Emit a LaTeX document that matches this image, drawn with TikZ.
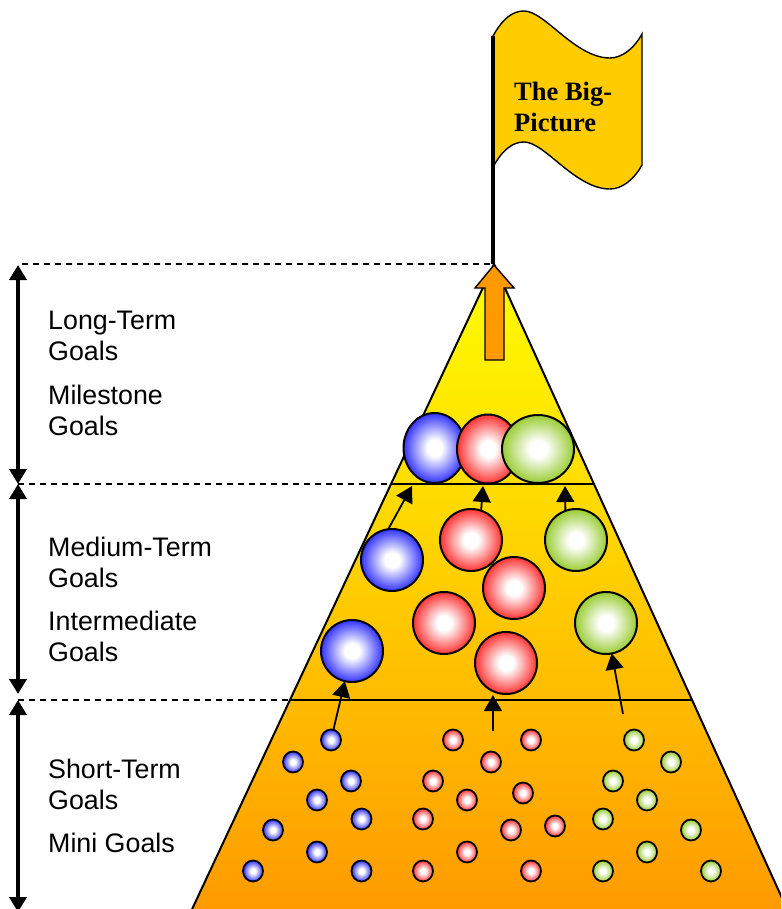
\documentclass[tikz,border=0pt]{standalone}
\usepackage{fontspec}
\setmainfont{Liberation Sans}
\newfontfamily\flagfont{Liberation Serif}
\usetikzlibrary{arrows.meta,shapes.geometric}
\definecolor{flagyellow}{HTML}{FFCC00}
\definecolor{goalorange}{HTML}{FF9900}
\definecolor{goalblue}{HTML}{3333FF}
\definecolor{goalred}{HTML}{FF3333}
\definecolor{goalgreen}{HTML}{99CC33}
\pgfdeclareradialshading{ballblue}{\pgfpointorigin}{color(0bp)=(white); color(6bp)=(white); color(25bp)=(goalblue); color(50bp)=(goalblue)}
\pgfdeclareradialshading{ballred}{\pgfpointorigin}{color(0bp)=(white); color(6bp)=(white); color(25bp)=(goalred); color(50bp)=(goalred)}
\pgfdeclareradialshading{ballgreen}{\pgfpointorigin}{color(0bp)=(white); color(6bp)=(white); color(25bp)=(goalgreen); color(50bp)=(goalgreen)}
\tikzset{
bigball/.style={circle, draw=black, line width=2pt, shade, shading=ball#1, minimum size=62pt, inner sep=0pt, outer sep=0pt},
topball/.style={ellipse, draw=black, line width=2pt, shade, shading=ball#1, inner sep=0pt, outer sep=0pt},
smallball/.style={ellipse, draw=black, line width=1.8pt, shade, shading=ball#1, minimum width=20pt, minimum height=21pt, inner sep=0pt, outer sep=0pt},
goalarrow/.style={-{Triangle[length=16pt,width=18pt]}, line width=1.8pt},
spanarrow/.style={{Triangle[length=15pt,width=17pt]}-{Triangle[length=15pt,width=17pt]}, line width=4pt},
levelline/.style={dash pattern=on 6pt off 5pt, line width=1.5pt},
goaltext/.style={anchor=north west, align=left, inner sep=0pt, font=\fontsize{26.8}{30.5}\selectfont}
}
\begin{document}
\begin{tikzpicture}[x=1pt,y=-1pt]
        \path[use as bounding box, clip] (0,0) rectangle (781,909);

        % pyramid
        \path[top color=yellow, bottom color=goalorange] (494,264) -- (187,920) -- (792,920) -- cycle;
        \draw[line width=2pt] (494,264) -- (187,920) (494,264) -- (792,920);
        \draw[line width=1.8pt] (391,484) -- (594,484);
        \draw[line width=1.8pt] (290,700) -- (693,700);

        % levels
        \coordinate (top) at (494,264);
        \coordinate (midleft) at (391,484);
        \coordinate (lowleft) at (290,700);
        \draw[levelline] (22,264) -- (top);
        \draw[levelline] (18,484) -- (midleft);
        \draw[levelline] (18,700) -- (lowleft);

        % span arrows
        \coordinate (spana) at (18,265);
        \coordinate (spanb) at (18,484);
        \coordinate (spanc) at (18,694);
        \coordinate (spand) at (18,700);
        \coordinate (spane) at (18,912);
        \draw[spanarrow] (spana) -- (spanb);
        \draw[spanarrow] (spanb) -- (spanc);
        \draw[spanarrow] (spand) -- (spane);

        % labels
        \node[goaltext] (longterm) at (48,311) {Long-Term\\Goals};
        \node[goaltext] (milestone) at (48,385) {Milestone\\Goals};
        \node[goaltext] (mediumterm) at (48,537) {Medium-Term\\Goals};
        \node[goaltext] (intermediate) at (48,611) {Intermediate\\Goals};
        \node[goaltext] (shortterm) at (48,759) {Short-Term\\Goals};
        \node[goaltext] (minigoals) at (48,833) {Mini Goals};

        % flag
        \draw[fill=flagyellow, line width=1.4pt] (493,36) .. controls (503,18) and (513,11) .. (524,11)
            .. controls (545,11) and (575,58) .. (610,58)
            .. controls (623,58) and (635,47) .. (642,34) -- (642,165)
            .. controls (635,178) and (623,189) .. (610,189)
            .. controls (575,189) and (545,142) .. (524,142)
            .. controls (513,142) and (503,149) .. (493,167) -- cycle;
        \draw[line width=4pt] (493,36) -- (493,264);
        \node[anchor=north west, align=left, inner sep=0pt, font=\flagfont\bfseries\fontsize{26.5}{31}\selectfont] (bigpicture) at (514,82) {The Big-\\Picture};

        % up arrow
        \draw[fill=goalorange, line width=1.4pt] (494,265) -- (514,288) -- (504,288) -- (504,360) -- (485,360) -- (485,288) -- (475,288) -- cycle;

        % big balls
        \node[topball=blue, minimum width=62pt, minimum height=70pt] (tb) at (434.5,448) {};
        \node[topball=red, minimum width=62pt, minimum height=69pt] (tr) at (488,449) {};
        \node[topball=green, minimum width=72pt, minimum height=68pt] (tg) at (538,449) {};
        \node[bigball=blue] (mb1) at (352,651) {};
        \node[bigball=blue] (mb2) at (392,560) {};
        \node[bigball=red] (mr1) at (471,540) {};
        \node[bigball=red] (mr2) at (514,588) {};
        \node[bigball=red] (mr3) at (444,623) {};
        \node[bigball=red] (mr4) at (506,663) {};
        \node[bigball=green] (mg1) at (576,540) {};
        \node[bigball=green] (mg2) at (606,623) {};

        % small balls
        \foreach \coord [count=\i] in {(331,740), (293,762), (351,781), (317,800), (361.5,819), (273,830), (317,852), (253,871), (361.5,871)}{
            \node[smallball=blue] (sb\i) at \coord {};
        }
        \foreach \coord [count=\i] in {(453,740), (531,740), (491,762), (433,781), (467,800), (523,793), (423,819), (511,830), (555,826), (467,852), (423,871), (531,871)}{
            \node[smallball=red] (sr\i) at \coord {};
        }
        \foreach \coord [count=\i] in {(634,740), (671,762), (613,781), (647,800), (603,819), (691,830), (647,852), (603,871), (711,871)}{
            \node[smallball=green] (sg\i) at \coord {};
        }

        % arrows between levels
        \coordinate (tipb) at (412,486);
        \coordinate (tipr) at (483,486);
        \coordinate (tipg) at (565,486);
        \coordinate (footr) at (493,731);
        \coordinate (footg) at (623,714);
        \draw[goalarrow] (mb2.97) -- (tipb);
        \draw[goalarrow] (mr1.71) -- (tipr);
        \draw[goalarrow] (mg1.110) -- (tipg);
        \draw[goalarrow] (sb1) -- (mb1);
        \draw[goalarrow, shorten >=4pt] (footr) -- (mr4.-115);
        \draw[goalarrow] (footg) -- (mg2);
\end{tikzpicture}
\end{document}
